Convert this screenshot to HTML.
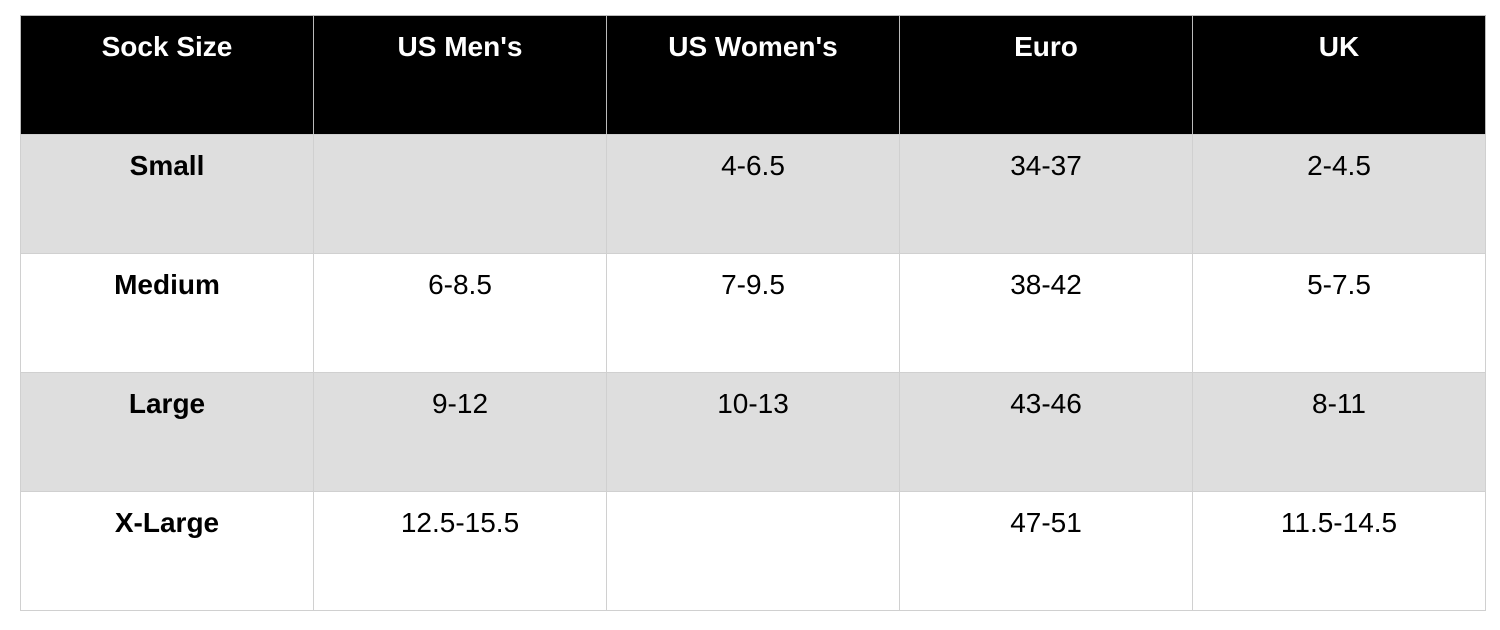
<!DOCTYPE html>
<html><head><style>
body{margin:0;width:1500px;height:630px;background:#fff;font-family:"Liberation Sans",Arial,sans-serif;position:relative;overflow:hidden}
.c{position:absolute;box-sizing:border-box;border:1px solid #d0d0d0;text-align:center;font-size:28px;line-height:32px;padding-top:15px;color:#000}
.h{background:#000;color:#fff;font-weight:bold;border-color:#bbb}
.g{background:#dedede}
.b{font-weight:bold}
</style></head><body>
<div id="t"></div>
<script>
var xs=[20,313,606,899,1192,1485],ys=[15,134,253,372,491,610];
var d=[["Sock Size","US Men's","US Women's","Euro","UK"],["Small","","4-6.5","34-37","2-4.5"],["Medium","6-8.5","7-9.5","38-42","5-7.5"],["Large","9-12","10-13","43-46","8-11"],["X-Large","12.5-15.5","","47-51","11.5-14.5"]];
var h="";
for(var r=0;r<5;r++)for(var c=0;c<5;c++){
var cls="c"+(r==0?" h":(r%2==1?" g":""))+(c==0&&r>0?" b":"");
h+='<div class="'+cls+'" style="left:'+xs[c]+'px;top:'+ys[r]+'px;width:'+(xs[c+1]-xs[c]+1)+'px;height:'+(ys[r+1]-ys[r]+1)+'px">'+d[r][c]+'</div>';}
document.getElementById("t").innerHTML=h;
</script>
</body></html>
